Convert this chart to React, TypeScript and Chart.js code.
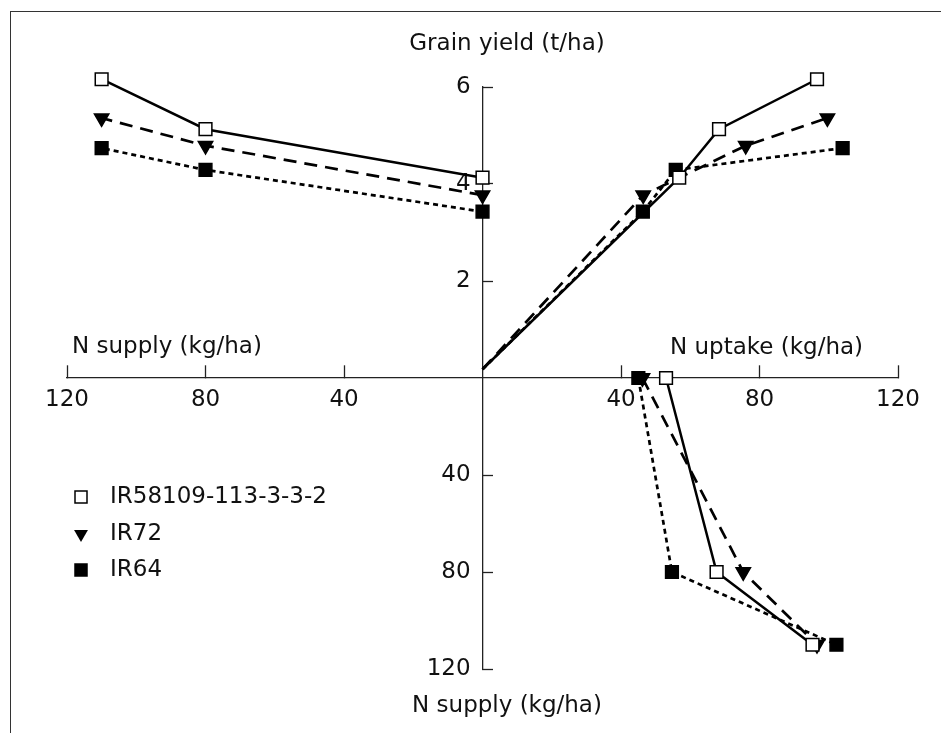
import React, { useEffect, useRef } from 'react';
import { Chart, registerables } from 'chart.js';

Chart.register(...registerables);

// Varieties, in legend order
const varieties = ['IR58109-113-3-3-2', 'IR72', 'IR64'];

// N supply levels (kg/ha)
const nSupply = [0, 80, 110];

// Grain yield (t/ha) at each N supply level
const yieldIR58109 = [4.13, 5.13, 6.16];
const yieldIR72 = [3.77, 4.79, 5.36];
const yieldIR64 = [3.43, 4.29, 4.74];

// N uptake (kg/ha) in the uptake vs. yield panel
const uptakeForYieldIR58109 = [56.8, 68.3, 96.6];
const uptakeForYieldIR72 = [46.4, 76.0, 99.6];
const uptakeForYieldIR64 = [46.3, 55.8, 104.0];

// N uptake (kg/ha) in the uptake vs. supply panel
const uptakeForSupplyIR58109 = [53.0, 67.6, 95.3];
const uptakeForSupplyIR72 = [46.2, 75.3, 96.6];
const uptakeForSupplyIR64 = [45.0, 54.7, 102.2];

// Yield where the uptake-yield lines start at zero uptake
const yieldAtZeroUptake = [0.18, 0.18, 0.18];

// Axis ticks
const horizontalTicks = [40, 80, 120]; // kg/ha, both directions
const yieldTicks = [2, 4, 6]; // t/ha
const supplyTicks = [40, 80, 120]; // kg/ha, lower panel

// kg/ha of N supply per t/ha of yield on the shared vertical axis
const SUPPLY_PER_YIELD = 20;

const yields = [yieldIR58109, yieldIR72, yieldIR64];
const uptakeForYield = [uptakeForYieldIR58109, uptakeForYieldIR72, uptakeForYieldIR64];
const uptakeForSupply = [uptakeForSupplyIR58109, uptakeForSupplyIR72, uptakeForSupplyIR64];

const FONT = '"DejaVu Sans", "Liberation Sans", sans-serif';
const INK = '#111';

type SeriesStyle = {
  pointStyle: 'rect' | 'triangle';
  rotation: number;
  radius: number;
  fill: string;
  dash: number[];
  width: number;
};

const seriesStyles: SeriesStyle[] = [
  { pointStyle: 'rect', rotation: 0, radius: 9, fill: '#ffffff', dash: [], width: 2.5 },
  { pointStyle: 'triangle', rotation: 180, radius: 8.3, fill: '#000000', dash: [13, 8], width: 2.7 },
  { pointStyle: 'rect', rotation: 0, radius: 9, fill: '#000000', dash: [5, 4], width: 2.7 },
];

function buildDatasets() {
  const sets: any[] = [];
  varieties.forEach((name, i) => {
    const st = seriesStyles[i];
    const common = {
      label: name,
      order: i,
      showLine: true,
      clip: false,
      borderColor: '#000',
      borderWidth: st.width,
      borderDash: st.dash,
      pointStyle: st.pointStyle,
      pointRotation: st.rotation,
      pointBackgroundColor: st.fill,
      pointBorderColor: '#000',
      pointBorderWidth: 1.5,
      pointRadius: st.radius,
    };
    // Upper left: grain yield vs N supply (supply runs leftwards)
    sets.push({
      ...common,
      data: nSupply.map((s, k) => ({ x: -s, y: yields[i][k] })),
    });
    // Upper right: grain yield vs N uptake, starting from zero uptake
    sets.push({
      ...common,
      data: [
        { x: 0, y: yieldAtZeroUptake[i] },
        ...uptakeForYield[i].map((u, k) => ({ x: u, y: yields[i][k] })),
      ],
      pointRadius: (ctx: any) => (ctx.dataIndex === 0 ? 0 : st.radius),
    });
    // Lower right: N supply (downwards) vs N uptake
    sets.push({
      ...common,
      data: uptakeForSupply[i].map((u, k) => ({ x: u, y: -nSupply[k] / SUPPLY_PER_YIELD })),
    });
  });
  return sets;
}

function drawLegendMarker(ctx: CanvasRenderingContext2D, st: SeriesStyle, cx: number, cy: number) {
  ctx.save();
  ctx.fillStyle = st.fill;
  ctx.strokeStyle = '#000';
  ctx.lineWidth = 1.5;
  ctx.beginPath();
  if (st.pointStyle === 'rect') {
    const h = 6;
    ctx.rect(cx - h, cy - h, 2 * h, 2 * h);
    ctx.fill();
    ctx.stroke();
  } else {
    const r = 8;
    ctx.moveTo(cx - r * 0.866, cy - r * 0.5);
    ctx.lineTo(cx + r * 0.866, cy - r * 0.5);
    ctx.lineTo(cx, cy + r);
    ctx.closePath();
    ctx.fill();
  }
  ctx.restore();
}

const panelText = {
  id: 'panelText',
  afterDraw(chart: any) {
    const ctx: CanvasRenderingContext2D = chart.ctx;
    ctx.save();
    ctx.font = `23px ${FONT}`;
    ctx.fillStyle = INK;
    ctx.textBaseline = 'alphabetic';

    ctx.textAlign = 'center';
    ctx.fillText('Grain yield (t/ha)', 507, 50);
    ctx.fillText('N supply (kg/ha)', 507, 712);

    ctx.textAlign = 'left';
    ctx.fillText('N supply (kg/ha)', 72, 353);
    ctx.fillText('N uptake (kg/ha)', 670, 354);

    // Legend
    const rowY = [497, 534, 570];
    varieties.forEach((name, i) => {
      drawLegendMarker(ctx, seriesStyles[i], 81, rowY[i]);
      ctx.fillStyle = INK;
      ctx.textBaseline = 'middle';
      ctx.fillText(name, 110, rowY[i]);
    });
    ctx.restore();
  },
};

// Labels on the central vertical axis are right-aligned at the axis line;
// trailing spacing keeps them clear of it.
const AXIS_GAP = ' \u2009';

export default function App() {
  const canvasRef = useRef<HTMLCanvasElement | null>(null);

  useEffect(() => {
    const canvas = canvasRef.current;
    if (!canvas) return;

    const tickFont = { family: FONT, size: 23 };

    const chart = new Chart(canvas, {
      type: 'scatter',
      data: { datasets: buildDatasets() },
      options: {
        animation: false,
        responsive: false,
        devicePixelRatio: 1,
        events: [],
        layout: { padding: { left: 67, right: 33, top: 87, bottom: 64 } },
        plugins: {
          legend: { display: false },
          tooltip: { enabled: false },
          title: { display: false },
        },
        scales: {
          x: {
            type: 'linear',
            position: { y: 0 } as any,
            min: -120,
            max: 120,
            afterBuildTicks: (scale: any) => {
              scale.ticks = [
                ...horizontalTicks.map((v) => ({ value: -v })),
                ...horizontalTicks.map((v) => ({ value: v })),
              ].sort((a, b) => a.value - b.value);
            },
            ticks: {
              font: tickFont,
              color: INK,
              padding: 21,
              maxRotation: 0,
              autoSkip: false,
              callback: (v: any) => String(Math.abs(Number(v))),
            },
            grid: {
              display: true,
              drawOnChartArea: false,
              drawTicks: true,
              tickLength: -13,
              tickColor: '#222',
              tickWidth: 1.3,
            },
            border: { display: true, color: '#222', width: 1.3 },
          },
          y: {
            type: 'linear',
            position: { x: 0 } as any,
            min: -120 / SUPPLY_PER_YIELD,
            max: 6,
            afterBuildTicks: (scale: any) => {
              scale.ticks = [
                ...supplyTicks.map((v) => ({ value: -v / SUPPLY_PER_YIELD })),
                ...yieldTicks.map((v) => ({ value: v })),
              ].sort((a, b) => a.value - b.value);
            },
            ticks: {
              font: tickFont,
              color: INK,
              autoSkip: false,
              callback: (v: any) => {
                const n = Number(v);
                const label = n > 0 ? String(n) : String(Math.round(-n * SUPPLY_PER_YIELD));
                return label + AXIS_GAP;
              },
            },
            grid: {
              display: true,
              drawOnChartArea: false,
              drawTicks: true,
              tickLength: -11,
              tickColor: '#222',
              tickWidth: 1.3,
            },
            border: { display: true, color: '#222', width: 1.3 },
          },
        },
      },
      plugins: [panelText],
    });

    return () => chart.destroy();
  }, []);

  return (
    <div style={{ position: 'fixed', left: 0, top: 0, width: 941, height: 733, background: '#fff' }}>
      <div
        style={{
          position: 'absolute',
          left: 10,
          top: 11,
          right: 0,
          bottom: 0,
          borderTop: '1.5px solid #333',
          borderLeft: '1.5px solid #333',
        }}
      />
      <canvas ref={canvasRef} width={941} height={733} style={{ position: 'absolute', left: 0, top: 0 }} />
    </div>
  );
}
